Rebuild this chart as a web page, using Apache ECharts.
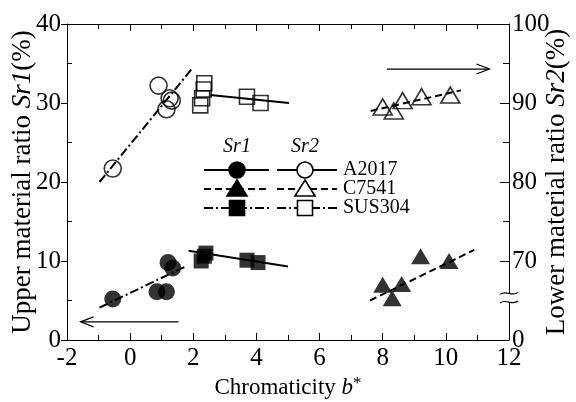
<!DOCTYPE html>
<html>
<head>
<meta charset="utf-8">
<script src="https://cdn.jsdelivr.net/npm/echarts@6/dist/echarts.min.js"></script>
<style>
  html, body { margin: 0; padding: 0; background: #fff; }
  #main { width: 576px; height: 402px; }
</style>
</head>
<body>
<div id="main"></div>
<script>
// Sr1 (left axis, %) -- filled markers
const a2017Sr1 = [[-0.55, 5.2], [0.85, 6.1], [1.15, 6.1], [1.2, 9.8], [1.35, 9.1]];
const c7541Sr1 = [[8.0, 7.0], [8.3, 5.3], [8.6, 7.1], [9.2, 10.6], [10.1, 10.0]];
const sus304Sr1 = [[2.25, 10.0], [2.35, 10.6], [2.4, 11.0], [3.7, 10.1], [4.05, 9.8]];
// Sr2 (right axis, %) -- open markers
const a2017Sr2 = [[-0.55, 81.7], [0.9, 92.2], [1.15, 89.2], [1.25, 90.6], [1.32, 90.3]];
const c7541Sr2 = [[8.0, 89.5], [8.35, 89.0], [8.63, 90.3], [9.23, 90.8], [10.14, 91.0]];
const sus304Sr2 = [[2.35, 92.5], [2.33, 91.7], [2.28, 90.6], [2.22, 89.7], [3.7, 90.8], [4.13, 90.0]];
// fit lines (end points)
const fitA2017Sr1 = [[-0.97, 4.1], [1.75, 9.3]];
const fitC7541Sr1 = [[7.6, 5.0], [10.9, 11.4]];
const fitSus304Sr1 = [[1.85, 11.3], [5.0, 9.3]];
const fitA2017Sr2 = [[-0.97, 80.0], [1.97, 94.4]];
const fitC7541Sr2 = [[7.62, 89.0], [10.48, 91.6]];
const fitSus304Sr2 = [[2.54, 91.0], [5.03, 90.0]];
// arrows: [from, to]
const arrowSr1 = [[1.53, 2.3], [-1.57, 2.3]];
const arrowSr2 = [[8.13, 94.3], [11.38, 94.3]];

const FONT = '"Liberation Serif", "Times New Roman", "DejaVu Serif", serif';
const DASH = [7, 4];
const DASHDOT = [9, 3, 2, 3];

const chart = echarts.init(document.getElementById('main'), null, {renderer: 'canvas'});

function scatter(data, symbol, size, filled, yi) {
  return {
    type: 'scatter', data: data, yAxisIndex: yi, symbol: symbol, symbolSize: size, z: 5,
    itemStyle: filled ? {color: '#000'} : {color: 'rgba(0,0,0,0)', borderColor: '#000', borderWidth: 1.6}
  };
}
function fit(data, type, yi) {
  return {
    type: 'line', data: data, yAxisIndex: yi, showSymbol: false, symbol: 'none', z: 4,
    lineStyle: {color: '#000', width: 2, type: type}
  };
}

const tickLabel = {color: '#000', fontFamily: FONT, fontSize: 25};
const axLine = {show: true, onZero: false, lineStyle: {color: '#000', width: 1}};
const yNameRich = {
  n: {fontFamily: FONT, fontSize: 27, color: '#000'},
  i: {fontFamily: FONT, fontSize: 27, fontStyle: 'italic', color: '#000'}
};

chart.setOption({
  animation: false,
  grid: {left: 67, right: 67, top: 24, bottom: 62, containLabel: false, outerBoundsMode: 'none'},
  xAxis: [
    {
      type: 'value', min: -2, max: 12, interval: 2, position: 'bottom',
      axisLine: axLine,
      axisTick: {inside: true, length: 7, lineStyle: {color: '#000'}},
      minorTick: {show: true, splitNumber: 2, length: 5, lineStyle: {color: '#000'}},
      splitLine: {show: false},
      axisLabel: Object.assign({margin: 6}, tickLabel),
      name: '{n|Chromaticity }{i|b}{s|*}', nameLocation: 'middle', nameGap: 35, nameMoveOverlap: false,
      nameTextStyle: {
        rich: {
          n: {fontFamily: FONT, fontSize: 23, color: '#000'},
          i: {fontFamily: FONT, fontSize: 23, fontStyle: 'italic', color: '#000'},
          s: {fontFamily: FONT, fontSize: 17, color: '#000', verticalAlign: 'top', padding: [0, 0, 8, 0]}
        }
      }
    },
    {
      type: 'value', min: -2, max: 12, interval: 2, position: 'top',
      axisLine: axLine,
      axisTick: {inside: true, length: 7, lineStyle: {color: '#000'}},
      minorTick: {show: true, splitNumber: 2, length: 5, lineStyle: {color: '#000'}},
      splitLine: {show: false},
      axisLabel: {show: false}
    }
  ],
  yAxis: [
    {
      type: 'value', min: 0, max: 40, interval: 10, position: 'left',
      axisLine: axLine,
      axisTick: {inside: false, length: 6, lineStyle: {color: '#000'}},
      splitLine: {show: false},
      axisLabel: Object.assign({margin: 6}, tickLabel),
      name: '{n|Upper material ratio }{i|Sr1}{n|(%)}', nameLocation: 'middle', nameGap: 31, nameMoveOverlap: false,
      nameTextStyle: {rich: yNameRich}
    },
    {
      type: 'value', min: 60, max: 100, interval: 10, position: 'right',
      axisLine: axLine,
      axisTick: {inside: true, length: 9, customValues: [70, 80, 90], lineStyle: {color: '#000'}},
      splitLine: {show: false},
      axisLabel: Object.assign({margin: 3, formatter: v => v === 60 ? '0' : String(v)}, tickLabel),
      name: '{n|Lower material ratio }{i|Sr2}{n|(%)}', nameLocation: 'middle', nameGap: 34, nameMoveOverlap: false,
      nameRotate: 90,
      nameTextStyle: {rich: yNameRich}
    },
    {
      // minor ticks (inside) on the left axis
      type: 'value', min: 0, max: 40, interval: 10, position: 'left',
      axisLine: {show: false, onZero: false}, axisLabel: {show: false}, splitLine: {show: false},
      axisTick: {show: true, inside: true, length: 5, customValues: [5, 15, 25, 35], lineStyle: {color: '#000'}}
    },
    {
      // minor ticks on the right axis
      type: 'value', min: 60, max: 100, interval: 10, position: 'right',
      axisLine: {show: false, onZero: false}, axisLabel: {show: false}, splitLine: {show: false},
      axisTick: {show: true, inside: true, length: 6, customValues: [75, 85, 95], lineStyle: {color: '#000'}}
    }
  ],
  series: [
    fit(fitA2017Sr1, DASHDOT, 0),
    fit(fitC7541Sr1, DASH, 0),
    fit(fitSus304Sr1, 'solid', 0),
    fit(fitA2017Sr2, DASHDOT, 1),
    fit(fitC7541Sr2, DASH, 1),
    fit(fitSus304Sr2, 'solid', 1),
    scatter(a2017Sr1, 'circle', 17, true, 0),
    scatter(c7541Sr1, 'triangle', [19, 16], true, 0),
    scatter(sus304Sr1, 'rect', 15, true, 0),
    scatter(a2017Sr2, 'circle', 17, false, 1),
    scatter(c7541Sr2, 'triangle', [19, 16], false, 1),
    scatter(sus304Sr2, 'rect', 15, false, 1)
  ]
});

// annotations: arrows, axis break, legend
function px(pt, yi) {
  return chart.convertToPixel({xAxisIndex: 0, yAxisIndex: yi}, pt);
}
function arrow(pts, yi) {
  const a = px(pts[0], yi), b = px(pts[1], yi);
  const dir = b[0] > a[0] ? 1 : -1;
  return [
    {type: 'line', shape: {x1: a[0], y1: a[1], x2: b[0], y2: b[1]}, style: {stroke: '#000', lineWidth: 1.2}},
    {type: 'polyline', shape: {points: [[b[0] - dir * 13, b[1] - 5], [b[0], b[1]], [b[0] - dir * 13, b[1] + 5]]},
      style: {stroke: '#000', lineWidth: 1.2, fill: null}}
  ];
}

const g = [];
g.push(...arrow(arrowSr1, 0), ...arrow(arrowSr2, 1));

// broken right axis
const bx = px([12, 60], 1)[0];
const b1 = px([12, 65.9], 1)[1], b2 = px([12, 64.8], 1)[1];
g.push({type: 'rect', shape: {x: bx - 2, y: b1, width: 4, height: b2 - b1}, style: {fill: '#fff'}, z: 50});
[b1, b2].forEach(y => {
  g.push({type: 'bezierCurve', z: 51,
    shape: {x1: bx - 9, y1: y + 1, cpx1: bx - 3, cpy1: y - 4, cpx2: bx + 3, cpy2: y + 4, x2: bx + 9, y2: y - 1},
    style: {stroke: '#000', lineWidth: 1.2, fill: null}});
});

// legend
const lg = {c1: 237, c2: 305, x1: [204, 269], x2: [277, 337], rows: [170, 189, 208], lx: 343};
const legRows = ['A2017', 'C7541', 'SUS304'];
const legDash = [null, DASH, DASHDOT];
const hdrFont = 'italic 20px ' + FONT;
g.push({type: 'text', style: {x: lg.c1, y: 147, text: 'Sr1', font: hdrFont, fill: '#000', align: 'center', verticalAlign: 'middle'}});
g.push({type: 'text', style: {x: lg.c2, y: 147, text: 'Sr2', font: hdrFont, fill: '#000', align: 'center', verticalAlign: 'middle'}});
legRows.forEach((name, i) => {
  const y = lg.rows[i];
  [[lg.x1, lg.c1, true], [lg.x2, lg.c2, false]].forEach(([xs, c, filled]) => {
    g.push({type: 'line', shape: {x1: xs[0], y1: y, x2: xs[1], y2: y},
      style: {stroke: '#000', lineWidth: 2, lineDash: legDash[i]}});
    const st = {fill: filled ? '#000' : '#fff', stroke: '#000', lineWidth: 1.6};
    if (i === 0) g.push({type: 'circle', shape: {cx: c, cy: y, r: 8}, style: st, z: 10});
    if (i === 1) g.push({type: 'polygon', shape: {points: [[c, y - 9], [c + 10, y + 7], [c - 10, y + 7]]}, style: st, z: 10});
    if (i === 2) g.push({type: 'rect', shape: {x: c - 7.5, y: y - 7.5, width: 15, height: 15}, style: st, z: 10});
  });
  g.push({type: 'text', style: {x: lg.lx, y: y, text: name, font: '20px ' + FONT, fill: '#000', verticalAlign: 'middle'}});
});

chart.setOption({graphic: g});
</script>
</body>
</html>
